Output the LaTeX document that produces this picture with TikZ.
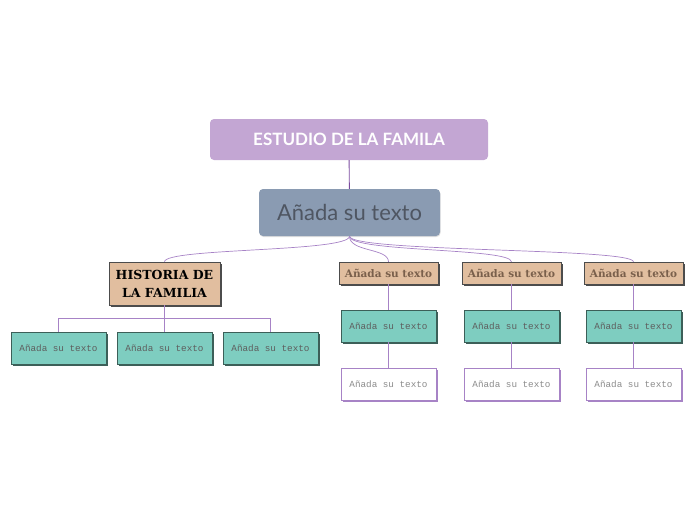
\documentclass[tikz,border=0pt]{standalone}
\usepackage{fontspec}
\usepackage{tikz}
\usetikzlibrary{shadows}
\newfontfamily\titlefont{Lato}
\newfontfamily\slabfont{DejaVu Serif}
\setmonofont{Liberation Mono}
\definecolor{RootFill}{HTML}{C3A6D3}
\definecolor{MainFill}{HTML}{8A9BB2}
\definecolor{MainText}{HTML}{4F5662}
\definecolor{TanFill}{HTML}{E1BE9F}
\definecolor{TanText}{HTML}{7A604C}
\definecolor{TealFill}{HTML}{7ECDC0}
\definecolor{TealDark}{HTML}{3C5F58}
\definecolor{LinePurple}{HTML}{A783C6}
\definecolor{LineDark}{HTML}{7B4B9F}
\definecolor{MonoGray}{HTML}{5E5E5E}
\tikzset{
  rootnode/.style={fill=RootFill,rounded corners=4pt,minimum width=278pt,minimum height=41pt,text=white,font=\titlefont\bfseries\fontsize{17}{19}\selectfont},
  mainnode/.style={fill=MainFill,rounded corners=4pt,minimum width=181pt,minimum height=47pt,text=MainText,font=\titlefont\fontsize{22}{24}\selectfont,drop shadow={shadow xshift=0.5pt,shadow yshift=-1pt,opacity=0.25}},
  histnode/.style={draw=black!70,fill=TanFill,minimum width=111pt,minimum height=43pt,align=center,font=\slabfont\bfseries\fontsize{12.5}{18}\selectfont,drop shadow={shadow xshift=2pt,shadow yshift=-2pt,opacity=1,fill=black!70}},
  tannode/.style={draw=black!70,fill=TanFill,minimum width=99pt,minimum height=22pt,text=TanText,font=\slabfont\bfseries\fontsize{10.5}{12}\selectfont,drop shadow={shadow xshift=2pt,shadow yshift=-2pt,opacity=1,fill=black!70}},
  tealnode/.style={draw=TealDark,fill=TealFill,minimum width=95pt,minimum height=32pt,text=MonoGray,font=\ttfamily\fontsize{9.3}{10}\selectfont,drop shadow={shadow xshift=2pt,shadow yshift=-2pt,opacity=1,fill=TealDark}},
  plainnode/.style={draw=LinePurple,fill=white,minimum width=95pt,minimum height=32pt,text=black!45,font=\ttfamily\fontsize{9.3}{10}\selectfont,drop shadow={shadow xshift=1.5pt,shadow yshift=-1.5pt,opacity=1,fill=LinePurple}},
  link/.style={draw=LinePurple,line width=0.7pt}
}
\begin{document}
\begin{tikzpicture}[x=1pt,y=-1pt]
\useasboundingbox (0,0) rectangle (696,520);
\node[rootnode] (root) at (349,139.5) {ESTUDIO DE LA FAMILA};
\node[mainnode] (main) at (349.5,212.5) {Añada su texto};
\node[histnode] (hist) at (164.5,283.5) {HISTORIA DE\\LA FAMILIA};
\foreach \i/\x in {1/58.5,2/164.5,3/270.5}{
  \node[tealnode] (hsub\i) at (\x,348) {Añada su texto};
  \draw[link] (hist.south) -- ++(0,13) -| (hsub\i.north);
}
\foreach \i/\x in {1/388.5,2/511.5,3/633.5}{
  \node[tannode] (topic\i) at (\x,273) {Añada su texto};
  \node[tealnode] (sub\i) at (\x,326) {Añada su texto};
  \node[plainnode] (leaf\i) at (\x,384) {Añada su texto};
  \draw[link] (main.south) .. controls +(0,16) and +(0,-14) .. (topic\i.north);
  \draw[link] (topic\i) -- (sub\i);
  \draw[link] (sub\i) -- (leaf\i);
}
\draw[link] (main.south) .. controls +(0,16) and +(0,-14) .. (hist.north);
\draw[draw=LineDark,line width=0.9pt] (root) -- (main);
\end{tikzpicture}
\end{document}
